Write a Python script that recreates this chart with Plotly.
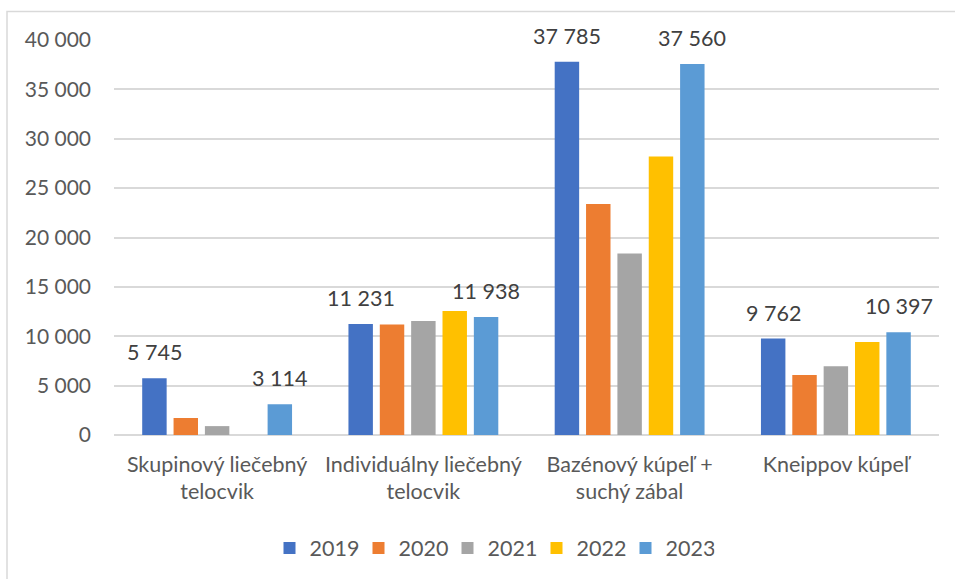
import plotly.graph_objects as go

categories = ["Skupinový liečebný<br>telocvik", "Individuálny liečebný<br>telocvik",
              "Bazénový kúpeľ +<br>suchý zábal", "Kneippov kúpeľ"]
years = ["2019", "2020", "2021", "2022", "2023"]
v2019 = [5745, 11231, 37785, 9762]
v2020 = [1720, 11200, 23380, 6070]
v2021 = [900, 11540, 18390, 6950]
v2022 = [None, 12550, 28200, 9410]
v2023 = [3114, 11938, 37560, 10397]
series = [v2019, v2020, v2021, v2022, v2023]
colors = ["#4472C4", "#ED7D31", "#A5A5A5", "#FFC000", "#5B9BD5"]
labeled = {"2019", "2023"}

FONT = "Lato"
FS = 21.5

def fmt(v):
    return "" if v is None else f"{v:,}".replace(",", " ")

W, H = 955, 579
l, r, t, b = 114, 16, 40, 144
pw, ph = W - l - r, H - t - b
BARGAP = 0.24
slot = pw / len(categories) * (1 - BARGAP) / len(years)

def px(x):
    return (x - l) / pw

def py(y):
    return (H - b - y) / ph

fig = go.Figure()
annotations = []
for i, (y, vals, c) in enumerate(zip(years, series, colors)):
    fig.add_bar(name=y, x=categories, y=vals, marker=dict(color=c, line=dict(width=0)))
    if y in labeled:
        for cat, v in zip(categories, vals):
            if v is None:
                continue
            annotations.append(dict(
                x=cat, y=v, xref="x", yref="y", text=fmt(v), showarrow=False,
                xshift=(i - (len(years) - 1) / 2) * slot, yshift=26,
                yanchor="middle", xanchor="center",
                font=dict(family=FONT, size=FS, color="#404040")))

fig.update_layout(
    width=W, height=H,
    margin=dict(l=l, r=r, t=t, b=b, autoexpand=False),
    paper_bgcolor="white", plot_bgcolor="white",
    barmode="group", bargap=BARGAP, bargroupgap=0.22,
    separators=", ",
    font=dict(family=FONT, size=FS, color="#595959"),
    showlegend=True,
    legend=dict(orientation="h", x=px(492), xanchor="center", y=py(548), yanchor="middle",
                font=dict(family=FONT, size=FS, color="#595959"), traceorder="normal",
                itemwidth=30, entrywidth=44, entrywidthmode="pixels"),
    yaxis=dict(range=[0, 40000], dtick=5000, tickformat=",d", showgrid=True,
               gridcolor="#D9D9D9", gridwidth=1.5, zeroline=True, zerolinecolor="#D9D9D9",
               zerolinewidth=1.5, showline=False, ticks="", ticklabelstandoff=22,
               tickfont=dict(family=FONT, size=21, color="#595959")),
    xaxis=dict(showgrid=False, showline=False, ticks="", ticklabelstandoff=14,
               tickfont=dict(family=FONT, size=FS, color="#595959")),
    annotations=annotations,
    shapes=[dict(type="rect", xref="paper", yref="paper",
                 x0=px(7), x1=px(962), y0=py(590), y1=py(11.5),
                 line=dict(color="#D9D9D9", width=1.5), fillcolor="rgba(0,0,0,0)", layer="below")],
)

fig.write_html("out.html", config={"displayModeBar": False},
               post_script="document.body.style.margin='0';document.body.style.overflow='hidden';")
